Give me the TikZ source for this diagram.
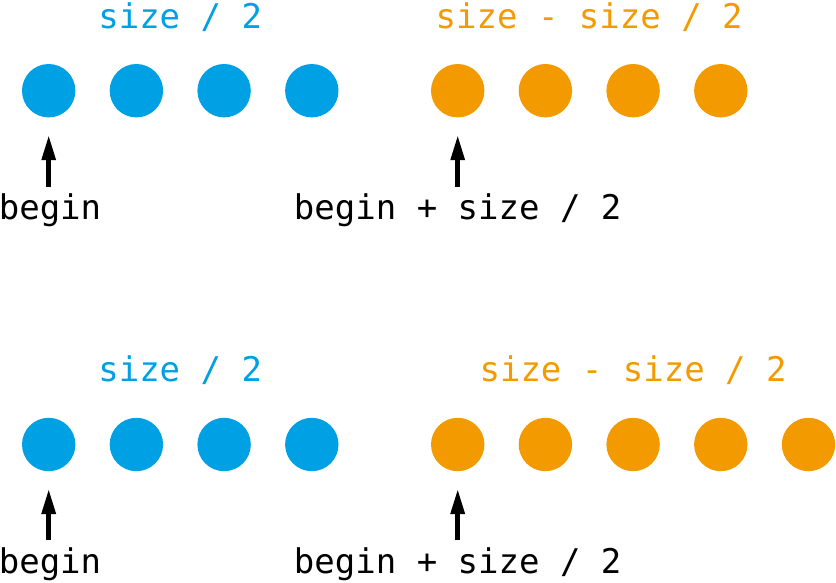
\documentclass[tikz,border=0pt]{standalone}
\usepackage{fontspec}
\setmonofont{DejaVu Sans Mono}
\usetikzlibrary{arrows.meta}
\definecolor{cblue}{RGB}{0,160,229}
\definecolor{corange}{RGB}{243,154,0}
\begin{document}
\begin{tikzpicture}[x=1pt,y=-1pt,
  dot/.style={circle,inner sep=0pt,minimum size=53.4pt},
  bdot/.style={dot,fill=cblue},
  odot/.style={dot,fill=corange},
  lbl/.style={font=\fontsize{34}{40}\selectfont\ttfamily,inner sep=0pt,anchor=base},
  blbl/.style={lbl,text=cblue},
  olbl/.style={lbl,text=corange},
  ptr/.style={line width=4.5pt,-{Triangle[length=25pt,width=13.5pt]},shorten >=17.6pt,shorten <=6.7pt}
]
\useasboundingbox (0,0) rectangle (836,582);
% top row
\foreach \i/\x in {1/48.7,2/136.4,3/224.1,4/311.8}
  \node[bdot] (tb\i) at (\x,90.7) {};
\foreach \i/\x in {1/457.7,2/545.4,3/633.1,4/720.8}
  \node[odot] (to\i) at (\x,90.7) {};
\node[blbl] (tbl) at (180.2,28.3) {size / 2};
\node[olbl] (tol) at (589.2,28.3) {size - size / 2};
\node[lbl] (tbeg) at (50,219.5) {begin};
\node[lbl] (tmid) at (457.7,219.5) {begin + size / 2};
\draw[ptr] (tbeg.north -| tb1.south) -- (tb1.south);
\draw[ptr] (tmid.north) -- (to1.south);
% bottom row
\foreach \i/\x in {1/48.7,2/136.4,3/224.1,4/311.8}
  \node[bdot] (bb\i) at (\x,444.5) {};
\foreach \i/\x in {1/457.7,2/545.4,3/633.1,4/720.8,5/808.5}
  \node[odot] (bo\i) at (\x,444.5) {};
\node[blbl] (bbl) at (180.2,381.8) {size / 2};
\node[olbl] (bol) at (633.1,381.8) {size - size / 2};
\node[lbl] (bbeg) at (50,573) {begin};
\node[lbl] (bmid) at (457.7,573) {begin + size / 2};
\draw[ptr] (bbeg.north -| bb1.south) -- (bb1.south);
\draw[ptr] (bmid.north) -- (bo1.south);
\end{tikzpicture}
\end{document}
